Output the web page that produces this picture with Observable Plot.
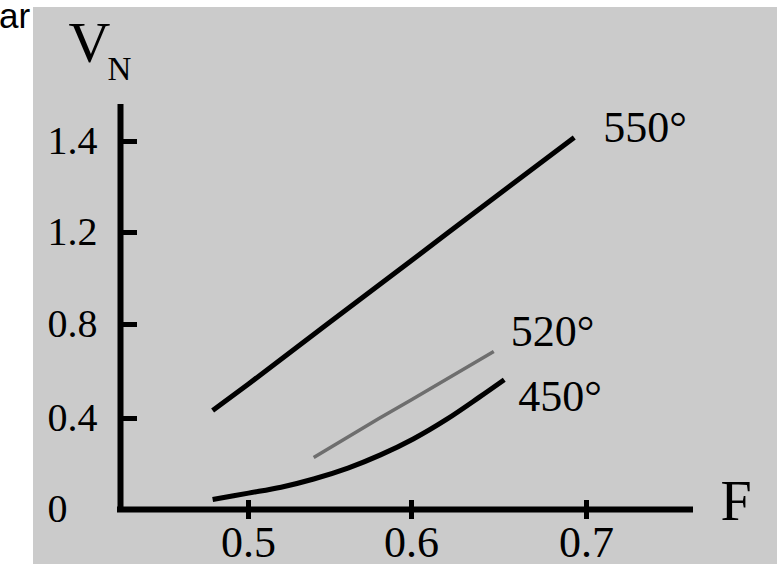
<!DOCTYPE html>
<html>
<head>
<meta charset="utf-8">
<script src="https://cdn.jsdelivr.net/npm/d3@7"></script>
<script src="https://cdn.jsdelivr.net/npm/@observablehq/plot@0.6"></script>
<style>
  html, body { margin: 0; padding: 0; background: #ffffff; width: 777px; height: 564px; overflow: hidden; }
  #clip { position: absolute; left: -1px; top: -4px; font-family: "Liberation Sans", Arial, sans-serif; font-size: 35px; line-height: normal; color: #000; white-space: nowrap; }
  #panel { position: absolute; left: 33px; top: 7px; width: 744px; height: 557px; background: #cbcbcb; }
  #panel svg { display: block; }
  #panel svg text { font-family: "Liberation Serif", "Times New Roman", serif !important; }
</style>
</head>
<body>
<div id="clip">ar</div>
<div id="panel"></div>
<script>
// ---- data ----
const F550 = [0.478, 0.5, 0.548, 0.6, 0.621, 0.693];
const V550 = [0.434, 0.547, 0.8, 1.078, 1.2, 1.409];

const F520 = [0.540, 0.580, 0.6, 0.647];
const V520 = [0.229, 0.4, 0.48, 0.685];

const F450 = [0.478, 0.5, 0.520, 0.540, 0.561, 0.581, 0.601, 0.620, 0.639, 0.653];
const V450 = [0.044, 0.072, 0.098, 0.134, 0.182, 0.240, 0.310, 0.396, 0.492, 0.565];

const seriesNames = ["550°", "520°", "450°"];

const xTicks = [0.5, 0.6, 0.7];
const xTickLabels = ["0.5", "0.6", "0.7"];
const yTicks = [0, 0.4, 0.8, 1.2, 1.4];
const yTickLabels = ["0", "0.4", "0.8", "1.2", "1.4"];

// hand-drawn axes: equal spacing between unequal tick values -> piecewise scales
const xBreaks = [0.4215, 0.5, 0.6, 0.7, 0.759];
const yBreaks = [0, 0.4, 0.8, 1.2, 1.4, 1.475];

// ---- build tables ----
const toRows = (F, V) => F.map((f, i) => ({F: f, V: V[i]}));
const d550 = toRows(F550, V550);
const d520 = toRows(F520, V520);
const d450 = toRows(F450, V450);
const last = (d, name) => [{...d[d.length - 1], name}];

const serif = "Liberation Serif";
const W = 744, H = 557;
const mL = 87, mR = 87, mT = 100, mB = 55;

const chart = Plot.plot({
  width: W,
  height: H,
  marginLeft: mL,
  marginRight: mR,
  marginTop: mT,
  marginBottom: mB,
  style: {background: "transparent", color: "#000", fontFamily: serif, overflow: "visible"},
  x: {type: "linear", domain: xBreaks, range: [87, 215, 378, 553, 657], label: null},
  y: {type: "linear", domain: yBreaks, range: [502, 411, 317, 225, 134, 100], label: null},
  marks: [
    // axis lines
    Plot.ruleY([0], {stroke: "#000", strokeWidth: 6, strokeLinecap: "square"}),
    Plot.ruleX([xBreaks[0]], {stroke: "#000", strokeWidth: 6, strokeLinecap: "square"}),
    // y ticks pointing inwards
    Plot.axisY(yTicks.filter(d => d > 0), {anchor: "left", tickSize: 17, dx: 17, strokeWidth: 5, tickFormat: () => "", label: null}),
    // y tick labels (left aligned)
    Plot.axisY(yTicks, {anchor: "left", tickSize: 0, tickPadding: 0, dx: -73, textAnchor: "start", fontSize: 40, fontFamily: serif,
      tickFormat: d => yTickLabels[yTicks.indexOf(d)], label: null}),
    // x ticks crossing the axis + labels
    Plot.axisX(xTicks, {anchor: "bottom", tickSize: 19, dy: -9, tickPadding: 6, strokeWidth: 5, fontSize: 44, fontFamily: serif,
      tickFormat: d => xTickLabels[xTicks.indexOf(d)], label: null}),
    // axis titles
    Plot.text(["V"], {frameAnchor: "top-left", dx: -52, dy: -64, textAnchor: "start", lineAnchor: "middle", fontSize: 58, fontFamily: serif}),
    Plot.text(["N"], {frameAnchor: "top-left", dx: -13, dy: -38, textAnchor: "start", lineAnchor: "middle", fontSize: 33, fontFamily: serif}),
    Plot.text(["F"], {frameAnchor: "bottom-right", dx: 30, dy: -7.5, textAnchor: "start", lineAnchor: "middle", fontSize: 56, fontFamily: serif}),
    // curves
    Plot.line(d550, {x: "F", y: "V", stroke: "#000", strokeWidth: 5, strokeLinecap: "butt", curve: "linear"}),
    Plot.line(d520, {x: "F", y: "V", stroke: "#6e6e6e", strokeWidth: 3.5, strokeLinecap: "butt", curve: "linear"}),
    Plot.line(d450, {x: "F", y: "V", stroke: "#000", strokeWidth: 5, strokeLinecap: "butt", curve: "catmull-rom"}),
    // curve labels
    Plot.text(last(d550, seriesNames[0]), {x: "F", y: "V", text: "name", dx: 29, dy: -10, textAnchor: "start", fontSize: 44, fontFamily: serif}),
    Plot.text(last(d520, seriesNames[1]), {x: "F", y: "V", text: "name", dx: 17, dy: -20, textAnchor: "start", fontSize: 44, fontFamily: serif}),
    Plot.text(last(d450, seriesNames[2]), {x: "F", y: "V", text: "name", dx: 14, dy: 17, textAnchor: "start", fontSize: 44, fontFamily: serif})
  ]
});
document.getElementById("panel").appendChild(chart);
</script>
</body>
</html>
